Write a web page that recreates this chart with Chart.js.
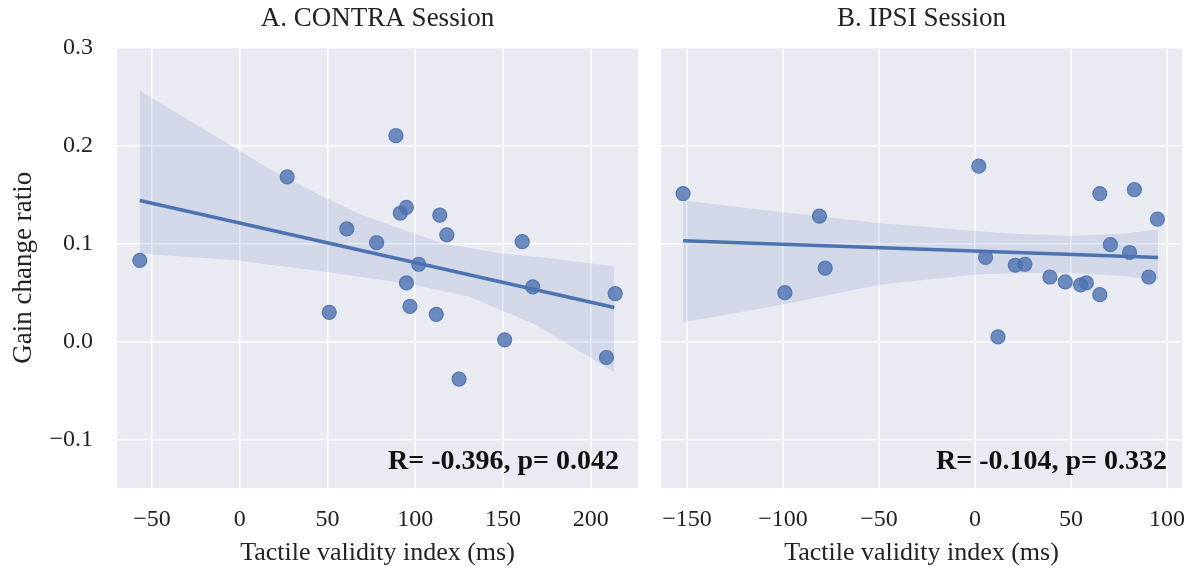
<!DOCTYPE html>
<html>
<head>
<meta charset="utf-8">
<script src="https://cdn.jsdelivr.net/npm/chart.js@4/dist/chart.umd.min.js"></script>
<style>
  body { margin: 0; background: #fff; }
  .panel { position: absolute; top: 0; }
</style>
</head>
<body>
<div class="panel" style="left:0"><canvas id="contra" width="648" height="574"></canvas></div>
<div class="panel" style="left:648px"><canvas id="ipsi" width="547" height="574"></canvas></div>
<script>
// CONTRA session
const contraX = [-57, 27, 51, 61, 78, 89, 91.5, 95, 95, 97, 102, 112, 114, 118, 125, 151, 161, 167, 209, 214];
const contraY = [0.083, 0.168, 0.030, 0.115, 0.101, 0.210, 0.131, 0.137, 0.060, 0.036, 0.079, 0.028, 0.129, 0.109, -0.038, 0.002, 0.102, 0.056, -0.016, 0.049];
const contraFitX = [-57, 213.5];
const contraFitY = [0.144, 0.035];
const contraBandX = [-57, 17, 45, 68.5, 97, 116, 150, 173, 213.5];
const contraUpper = [0.256, 0.176, 0.150, 0.130, 0.112, 0.100, 0.090, 0.086, 0.077];
const contraLowX = [-57, -2, 49.5, 97, 131, 169, 213.5];
const contraLower = [0.090, 0.083, 0.071, 0.059, 0.046, 0.017, -0.031];

// IPSI session
const ipsiX = [-152, -99, -81, -78, 2, 5.5, 12, 21, 26, 39, 47, 55, 58, 65, 65, 70.5, 80.5, 83, 90.5, 95];
const ipsiY = [0.151, 0.050, 0.128, 0.075, 0.179, 0.086, 0.005, 0.078, 0.079, 0.066, 0.061, 0.058, 0.060, 0.151, 0.048, 0.099, 0.091, 0.155, 0.066, 0.125];
const ipsiFitX = [-152, 95.3];
const ipsiFitY = [0.103, 0.086];
const ipsiBandX = [-152, -100, -50, 0, 25, 50, 77, 95.3];
const ipsiUpper = [0.144, 0.132, 0.121, 0.113, 0.1095, 0.108, 0.110, 0.1145];
const ipsiLower = [0.020, 0.038, 0.058, 0.0685, 0.070, 0.070, 0.067, 0.063];

const yTicks = [-0.1, 0.0, 0.1, 0.2, 0.3];
const contraXTicks = [-50, 0, 50, 100, 150, 200];
const ipsiXTicks = [-150, -100, -50, 0, 50, 100];

const blue = '#4C72B0';
const serif = "'Liberation Serif', 'Times New Roman', serif";
const pts = (xs, ys) => xs.map((x, i) => ({x: x, y: ys[i]}));
const minus = v => String(v).replace('-', '\u2212');

// background + stats text
const panelBg = {
  id: 'panelBg',
  beforeDraw(chart) {
    const {ctx, chartArea: a} = chart;
    ctx.save();
    ctx.fillStyle = '#EAEAF2';
    ctx.fillRect(a.left, a.top, a.right - a.left, a.bottom - a.top);
    ctx.restore();
  },
  afterDatasetsDraw(chart, args, opts) {
    const {ctx, chartArea: a} = chart;
    ctx.save();
    ctx.font = 'bold 28px ' + serif;
    ctx.fillStyle = '#111';
    ctx.textAlign = 'right';
    ctx.textBaseline = 'middle';
    ctx.fillText(opts.text, a.right - opts.inset, a.bottom - 26);
    ctx.restore();
  }
};

function makeChart(id, cfg) {
  const datasets = [
    {type: 'line', data: pts(cfg.bandX, cfg.upper), borderWidth: 0, pointRadius: 0, fill: false, order: 3},
    {type: 'line', data: pts(cfg.lowX, cfg.lower), borderWidth: 0, pointRadius: 0,
     fill: '-1', backgroundColor: 'rgba(76,114,176,0.15)', order: 3},
    {type: 'scatter', data: pts(cfg.x, cfg.y), pointRadius: 7,
     backgroundColor: 'rgba(76,114,176,0.8)', borderColor: 'rgba(76,114,176,0.9)', borderWidth: 1.2, order: 2},
    {type: 'line', data: pts(cfg.fitX, cfg.fitY), borderColor: blue, borderWidth: 3.5,
     pointRadius: 0, fill: false, order: 1}
  ];
  return new Chart(document.getElementById(id), {
    type: 'scatter',
    data: {datasets: datasets},
    options: {
      responsive: false,
      animation: false,
      layout: {padding: {left: 0, right: cfg.padRight, top: 0, bottom: 0}},
      plugins: {
        legend: {display: false},
        tooltip: {enabled: false},
        title: {
          display: true, text: cfg.title, fullSize: false, color: '#222',
          font: {family: serif, size: 27, weight: 'normal'},
          padding: {top: 3, bottom: 12}
        },
        panelBg: {text: cfg.stat, inset: cfg.inset}
      },
      scales: {
        x: {
          type: 'linear', min: cfg.xMin, max: cfg.xMax,
          afterBuildTicks: s => { s.ticks = cfg.xTicks.map(v => ({value: v})); },
          afterFit: s => { s.height = 86; s.paddingLeft = 0; s.paddingRight = 0; },
          grid: {color: '#fff', lineWidth: 1.6, drawTicks: false},
          border: {display: false},
          ticks: {color: '#222', padding: 17, font: {family: serif, size: 24}, callback: v => minus(v)},
          title: {display: true, text: 'Tactile validity index (ms)', color: '#222',
                  font: {family: serif, size: 26}, padding: {top: 0, bottom: 5}}
        },
        y: {
          type: 'linear', min: -0.149, max: 0.3,
          afterBuildTicks: s => { s.ticks = yTicks.map(v => ({value: v})); },
          afterFit: s => { s.width = cfg.yWidth; s.paddingTop = 0; s.paddingBottom = 0; },
          grid: {color: '#fff', lineWidth: 1.6, drawTicks: false},
          border: {display: false},
          ticks: {display: cfg.showY, color: '#222', padding: 24, font: {family: serif, size: 24},
                  callback: v => minus(v.toFixed(1))},
          title: {display: cfg.showY, text: 'Gain change ratio', color: '#222',
                  font: {family: serif, size: 27}, padding: {top: 8, bottom: 0}}
        }
      }
    },
    plugins: [panelBg]
  });
}

makeChart('contra', {
  title: 'A. CONTRA Session', stat: 'R= -0.396, p= 0.042', inset: 19,
  x: contraX, y: contraY, fitX: contraFitX, fitY: contraFitY,
  bandX: contraBandX, upper: contraUpper, lowX: contraLowX, lower: contraLower,
  xMin: -70, xMax: 227, xTicks: contraXTicks, yWidth: 117, showY: true, padRight: 10
});

makeChart('ipsi', {
  title: 'B. IPSI Session', stat: 'R= -0.104, p= 0.332', inset: 15,
  x: ipsiX, y: ipsiY, fitX: ipsiFitX, fitY: ipsiFitY,
  bandX: ipsiBandX, upper: ipsiUpper, lowX: ipsiBandX, lower: ipsiLower,
  xMin: -163.5, xMax: 107.8, xTicks: ipsiXTicks, yWidth: 13, showY: false, padRight: 13
});
</script>
</body>
</html>
